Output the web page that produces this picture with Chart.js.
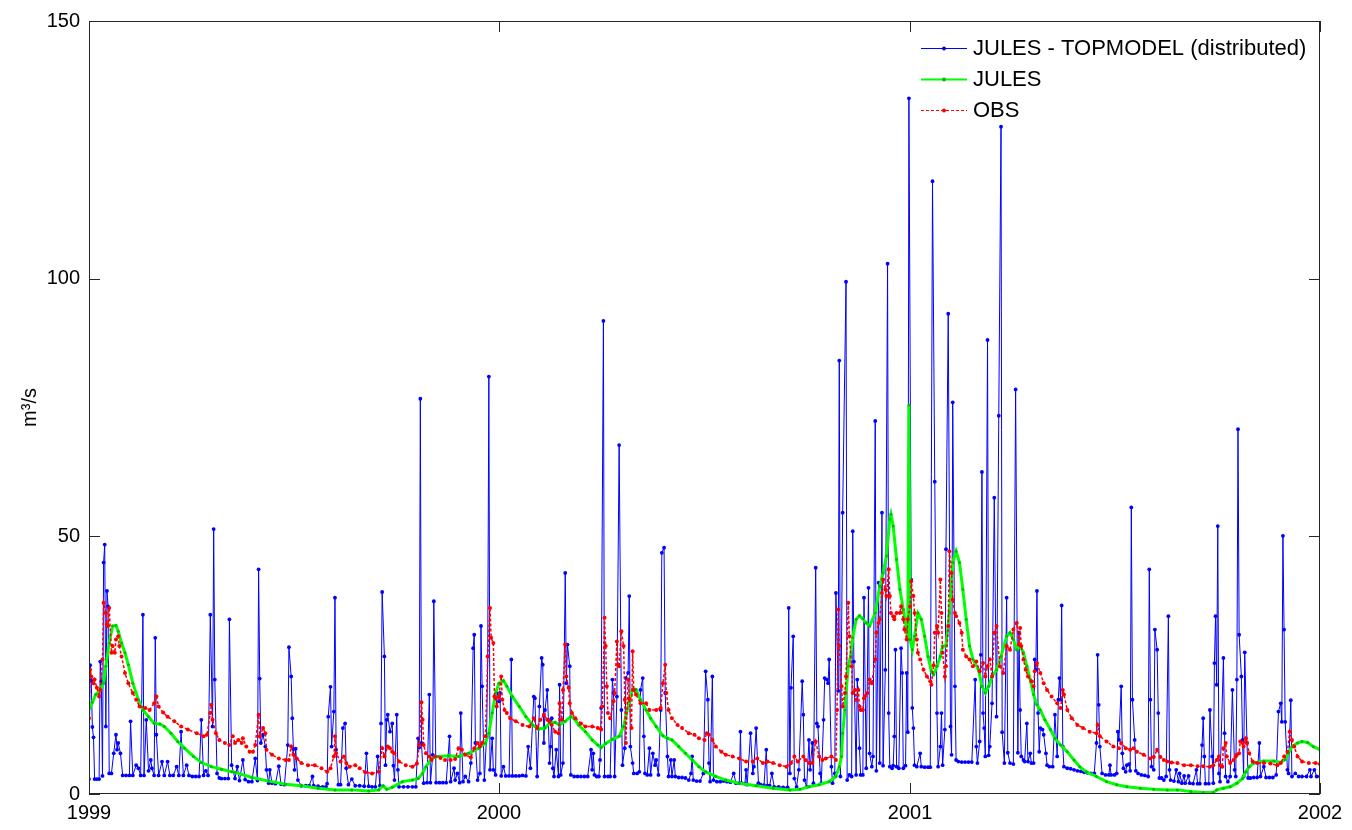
<!DOCTYPE html>
<html>
<head>
<meta charset="utf-8">
<script src="https://cdn.jsdelivr.net/npm/chart.js@4.4.1/dist/chart.umd.min.js"></script>
<style>
  html, body { margin: 0; padding: 0; background: #fff; }
  #wrap { width: 1352px; height: 830px; }
</style>
</head>
<body>
<div id="wrap"><canvas id="flowChart" width="1352" height="830"></canvas></div>
<script>
// x = days since 1 Jan 1999, y = discharge in m3/s
const yearTicks = [0, 365, 731, 1096];
const yearLabels = ['1999', '2000', '2001', '2002'];
const flowTicks = [0, 50, 100, 150];
const seriesNames = ['JULES - TOPMODEL (distributed)', 'JULES', 'OBS'];

const topmodelFlow = [
  [0,2.9],[1,25.0],[2,22.0],[3,13.0],[4,11.0],[5,2.9],[7,2.9],[9,2.9],[10,25.7],[11,21.9],[12,3.5],[13,44.9],[14,48.4],[15,13.1],[16,39.4],[17,36.4],[18,4.0],[20,4.0],[22,7.9],[24,11.5],[25,8.6],[26,9.9],[28,7.9],[30,3.6],[33,3.6],[36,3.6],[37,14.1],[39,3.6],[42,5.6],[44,5.0],[46,3.6],[48,34.8],[49,3.6],[51,14.4],[53,4.5],[55,6.6],[56,5.0],[58,3.6],[59,30.3],[60,11.5],[62,3.6],[65,6.3],[67,3.6],[70,6.3],[72,3.6],[75,3.6],[78,5.3],[80,3.6],[82,12.1],[84,3.6],[87,5.6],[89,3.6],[92,3.4],[95,3.4],[98,3.4],[100,14.4],[102,3.6],[104,4.5],[106,3.6],[108,34.8],[110,13.1],[111,51.4],[112,22.2],[114,4.0],[116,3.1],[118,3.0],[121,3.0],[124,3.0],[125,33.9],[127,5.6],[130,3.0],
  [132,5.3],[134,2.6],[137,6.6],[139,2.8],[142,2.4],[145,2.4],[148,6.9],[150,2.6],[151,43.6],[152,22.4],[153,9.9],[155,11.5],[157,9.2],[158,4.7],[160,2.1],[161,4.7],[163,2.1],[166,2.0],[169,5.4],[171,1.9],[174,1.8],[177,9.5],[178,28.5],[180,22.8],[181,14.7],[182,8.7],[183,4.7],[184,8.8],[186,2.7],[189,1.6],[193,1.6],[196,1.6],[199,3.4],[200,1.6],[204,1.5],[208,1.4],[211,1.4],[212,2.0],[213,15.0],[215,20.8],[216,9.2],[218,16.0],[219,38.1],[220,8.6],[222,1.8],[224,1.8],[226,12.8],[228,13.7],[229,5.0],[231,1.8],[234,2.9],[237,1.6],[241,1.6],[245,1.5],[247,7.9],[249,1.5],[252,1.4],[255,1.4],[257,7.3],[259,1.6],[260,13.7],[261,39.2],[263,26.7],[264,5.6],[265,14.4],[266,15.4],[268,12.1],[270,13.7],[271,5.5],[272,2.7],[274,15.4],[275,4.7],[276,1.4],[280,1.4],[284,1.4],[288,1.4],[291,1.4],[293,10.8],[294,9.0],[295,76.7],[296,9.9],[298,2.1],
  [301,2.2],[303,19.3],[304,2.2],[306,7.6],[307,37.4],[309,2.2],[312,2.2],[315,2.2],[318,2.2],[321,11.2],[322,2.4],[325,5.0],[326,2.7],[328,4.0],[330,2.2],[331,15.7],[333,2.4],[335,3.4],[338,2.4],[340,6.0],[342,28.3],[343,30.9],[344,9.9],[346,2.7],[348,4.0],[349,32.6],[350,20.9],[352,2.7],[354,11.2],[355,26.7],[356,81.0],[357,4.7],[359,10.8],[360,4.7],[362,3.7],[363,19.6],[365,18.0],[366,19.6],[367,3.5],[369,5.3],[371,3.5],[374,3.5],[376,26.1],[377,3.5],[380,3.5],[383,3.5],[386,3.6],[389,3.5],[391,9.2],[393,5.0],[396,18.9],[397,18.6],[399,3.4],[401,17.0],[403,26.4],[404,25.1],[405,9.9],[406,16.3],[408,20.2],[409,14.4],[410,6.0],[411,9.2],[412,14.7],[413,5.0],[414,3.4],[416,8.6],[418,3.4],[419,21.2],[420,3.7],[422,6.0],[424,42.9],[425,21.5],[426,29.0],[428,24.8],[429,3.7],[432,3.4],[435,3.4],[438,3.4],[441,3.4],[444,3.4],[447,8.6],[448,4.7],[449,7.9],[450,3.7],[452,3.4],[454,3.4],[455,6.6],[456,16.7],[458,91.8],[459,3.4],[462,3.4],[464,3.4],[466,22.2],[467,19.6],[468,3.4],[470,18.9],[472,67.7],[474,16.3],[475,5.6],[477,8.9],[478,22.5],[480,23.5],[481,38.4],[482,9.2],[484,6.0],[485,4.0],[488,4.0],[490,4.3],[491,20.2],[493,22.5],[494,11.2],[495,4.0],[497,3.7],[499,8.9],
  [500,3.7],[502,7.9],[504,5.6],[505,6.6],[507,3.7],[509,16.3],[510,46.8],[512,47.8],[513,19.6],[515,7.3],[516,3.4],[518,6.6],[519,3.4],[521,6.6],[522,3.4],[525,3.2],[528,3.2],[531,3.1],[534,2.7],[536,4.0],[537,7.3],[538,2.7],[541,2.5],[544,2.5],[547,4.0],[549,23.8],[551,18.3],[552,6.0],[553,2.4],[555,22.8],[556,2.7],[559,2.4],[562,2.4],[565,2.5],[568,2.4],[571,2.3],[574,4.0],[576,2.1],[579,2.1],[580,12.1],[581,2.1],[584,2.0],[585,4.7],[586,1.8],[589,11.8],[591,4.0],[592,5.3],[594,12.8],[596,2.1],[598,1.8],[601,1.7],[603,8.6],[604,1.6],[606,1.6],[608,4.0],[610,1.4],[614,1.4],[618,1.3],[622,1.3],[623,36.1],[624,4.0],[625,20.6],[627,30.6],[628,3.0],[630,1.4],[632,4.7],[635,21.9],[636,15.4],[637,2.7],[639,1.4],[641,10.5],[642,4.7],[644,9.9],[645,2.1],[647,43.9],[648,13.7],[649,13.1],[651,4.0],[652,2.1],[654,14.4],[655,22.5],[657,22.2],[658,21.5],[659,26.1],[661,5.3],[662,2.1],[664,4.0],[665,39.0],[667,20.0],[668,84.1],[669,3.4],[671,54.6],[674,99.4],[675,2.7],[677,3.7],[679,3.4],[680,51.0],[681,25.7],[683,3.7],[684,22.2],[686,8.9],[687,3.7],[689,3.7],[690,38.1],[692,5.0],[694,40.0],[695,7.9],[697,5.3],[698,7.3],
  [700,72.4],[701,4.5],[703,41.0],[704,6.0],[706,54.6],[707,5.5],[709,24.1],[711,102.9],[712,15.7],[713,5.3],[715,5.0],[716,5.5],[717,11.2],[718,28.0],[719,5.3],[721,5.0],[723,28.3],[724,23.5],[725,5.0],[727,5.5],[728,23.5],[729,12.0],[730,135.0],[732,41.6],[733,16.7],[734,12.8],[735,5.6],[737,5.3],[740,7.9],[741,5.3],[744,5.2],[747,5.2],[749,5.2],[751,118.9],[753,60.6],[755,15.7],[756,5.3],[758,9.2],[759,15.7],[760,5.6],[762,12.5],[763,47.5],[765,93.2],[767,13.1],[768,7.6],[769,76.0],[771,20.9],[772,6.6],[774,6.3],[777,6.2],[780,6.2],[783,6.2],[786,6.2],[789,22.2],[790,9.2],[791,6.0],[793,10.2],[794,27.0],[795,62.5],[796,15.7],[797,12.8],[798,7.3],[800,88.1],[801,7.5],[802,9.2],[804,17.6],[806,57.5],[808,15.0],[810,73.4],[812,129.5],[813,12.0],[815,6.0],[817,38.1],[818,8.0],[820,6.0],[823,5.8],[825,78.5],[827,8.0],[828,31.3],[829,16.3],[830,7.3],[832,6.6],[833,6.3],[835,13.7],[836,6.3],[838,7.9],[839,6.0],[841,6.0],[842,26.1],[843,24.1],[844,39.4],[845,15.7],[846,8.2],[847,12.8],[849,12.5],[850,11.5],[852,7.9],[853,5.6],[855,5.3],[858,5.3],[860,15.4],[862,7.3],[863,18.3],[864,22.5],[865,18.3],[866,36.6],[867,9.2],[868,5.3],[871,5.0],[874,4.9],[877,4.7],[880,4.5],[883,4.4],[886,4.2],[889,4.1],[892,4.0],[895,4.0],[897,9.9],[898,27.0],[899,17.3],
  [900,9.2],[902,4.0],[905,3.7],[908,3.7],[909,5.6],[910,3.7],[913,3.7],[915,4.0],[916,12.1],[917,10.5],[919,20.9],[920,7.9],[921,5.0],[923,4.3],[924,5.6],[926,5.8],[927,4.5],[928,55.6],[929,18.3],[931,10.5],[932,4.5],[934,4.0],[937,3.7],[940,3.6],[943,3.4],[944,43.6],[945,18.3],[946,5.3],[948,4.7],[949,31.9],[951,28.0],[952,15.7],[953,3.1],[955,3.1],[957,2.7],[959,3.4],[961,34.5],[962,4.7],[963,2.7],[966,2.5],[968,4.7],[970,2.4],[971,4.0],[973,2.1],[975,3.5],[976,2.1],[979,3.5],[980,2.1],[983,2.0],[986,4.7],[987,2.0],[989,2.0],[991,9.5],[992,14.7],[993,7.3],[994,2.0],[997,2.0],[998,16.3],[1000,7.3],[1001,2.1],[1002,25.4],[1003,34.5],[1004,21.2],[1005,52.0],[1006,4.0],[1007,2.4],[1010,26.4],[1011,11.8],[1012,3.4],[1014,2.4],[1016,3.4],[1018,20.2],[1020,4.7],[1021,3.4],[1022,22.2],[1023,70.8],[1024,30.9],[1026,22.8],[1027,10.5],[1028,3.4],[1029,27.5],[1031,9.9],[1032,3.1],[1034,3.1],[1037,3.2],[1040,3.2],[1042,9.9],[1043,3.4],[1046,5.3],[1048,3.2],[1051,3.2],[1054,3.2],[1057,3.7],[1059,16.0],[1061,17.6],[1062,14.0],[1063,50.1],[1064,31.9],[1065,14.0],[1067,4.7],[1068,4.0],[1070,18.2],[1071,3.4],[1074,4.0],[1077,3.4],[1080,3.4],[1084,3.4],[1087,4.7],[1088,3.4],[1091,4.7],[1093,3.4],[1096,3.4]
];

const julesFlow = [
  [0,16.5],[3,17.8],[6,19.3],[10,20.2],[13,21.5],[15,24.8],[18,29.3],[21,32.6],[24,32.7],[26,31.6],[29,29.3],[32,27.4],[35,25.1],[39,21.5],[44,18.3],[48,16.3],[53,15.0],[58,13.7],[63,13.6],[67,13.1],[73,11.8],[79,10.2],[85,8.9],[93,7.3],[100,6.1],[109,5.3],[118,4.8],[127,4.3],[130,4.2],[145,3.2],[160,2.5],[175,1.9],[189,1.6],[204,1.1],[219,0.8],[234,0.8],[249,0.6],[258,0.8],[262,1.6],[265,0.9],[270,1.3],[279,2.4],[288,2.7],[293,3.0],[297,4.0],
  [300,5.3],[305,6.9],[311,7.3],[320,7.4],[329,7.3],[338,7.9],[347,8.9],[353,9.9],[356,11.8],[359,15.7],[362,19.6],[365,21.5],[369,22.0],[372,20.9],[377,18.9],[383,17.0],[389,15.0],[395,13.4],[400,12.6],[406,12.8],[410,13.8],[415,13.9],[419,13.4],[424,14.1],[429,15.0],[432,14.6],[436,13.4],[442,12.1],[448,10.5],[453,9.5],[456,9.0],[460,9.8],[466,10.6],[472,11.2],[476,13.1],[481,18.0],[484,20.4],[487,20.3],[491,18.3],[496,16.3],
  [500,14.7],[505,13.1],[511,11.3],[515,10.8],[519,10.5],[525,9.2],[531,7.9],[537,6.6],[543,5.3],[549,4.3],[558,3.4],[567,2.7],[579,2.1],[594,1.6],[609,1.1],[624,0.8],[633,0.9],[641,1.4],[650,1.8],[659,2.4],[665,3.4],[668,5.3],[670,7.3],[671,11.8],[673,16.3],[674,19.6],[676,24.8],[678,26.7],[680,30.3],[683,33.9],[686,34.6],[689,34.0],[692,33.2],[695,32.6],
  [700,35.1],[704,40.3],[707,42.9],[710,46.2],[713,53.3],[714,54.3],[716,52.0],[719,45.5],[722,39.7],[725,35.8],[728,31.9],[729,30.0],[730,75.5],[731,30.0],[733,28.0],[735,30.6],[738,35.1],[741,33.9],[744,30.6],[747,26.7],[750,23.8],[752,23.2],[755,24.8],[758,26.7],[760,28.7],[763,28.7],[766,35.1],[769,44.9],[772,47.1],[775,44.9],[778,39.7],[781,33.9],[784,28.7],[787,26.1],[792,24.1],[795,20.9],[798,19.6],[801,20.9],[804,22.8],[808,24.1],[812,26.7],[817,30.6],[820,31.3],[823,30.0],[826,28.0],[829,28.7],[832,27.4],[835,24.8],[838,22.2],[841,19.3],[844,17.3],[847,16.3],[851,14.4],[856,12.5],[860,10.8],[865,9.5],[871,8.2],[877,6.6],[882,5.3],[888,4.3],[897,3.4],
  [906,2.4],[915,1.8],[924,1.4],[936,1.1],[948,0.9],[960,0.8],[969,0.8],[981,0.5],[992,0.3],[1001,0.3],[1004,0.8],[1010,1.1],[1016,1.4],[1022,2.1],[1027,3.0],[1030,4.3],[1033,5.3],[1037,6.0],[1046,6.4],[1055,6.4],[1061,6.1],[1065,6.7],[1068,7.9],[1071,9.2],[1076,9.9],[1080,10.2],[1085,10.0],[1090,9.2],[1096,8.6]
];

const obsFlow = [
  [0,14.7],[1,24.1],[2,22.8],[4,21.5],[5,22.2],[7,20.6],[9,18.9],[10,20.2],[12,26.1],[13,37.1],[15,35.1],[16,32.9],[17,32.6],[18,36.1],[20,27.4],[21,28.7],[23,27.4],[24,30.0],[26,30.6],[27,28.7],[29,26.7],[32,23.5],[35,21.5],[39,19.6],[42,18.3],[45,17.0],[50,16.7],[54,16.3],[58,17.6],[60,18.9],[62,17.0],[66,15.8],[70,15.0],[76,14.1],[82,13.1],[88,12.5],[96,11.8],[102,11.2],[105,11.5],[108,15.7],[109,17.3],[110,14.4],[113,11.8],[116,10.5],[121,9.9],[125,9.5],[128,11.2],[130,9.9],[133,10.5],[136,9.9],[137,10.8],[140,9.2],[143,8.2],[146,8.2],[148,9.5],[151,15.4],[152,11.2],[155,12.8],[157,11.8],[158,8.6],[163,7.6],[169,6.9],[175,6.6],[178,6.6],[180,9.2],[182,7.6],[185,6.9],[189,6.0],[195,5.6],
  [201,5.6],[207,5.0],[212,4.3],[215,5.0],[218,7.3],[219,11.2],[220,7.9],[224,6.3],[227,7.3],[229,6.0],[232,5.3],[237,5.6],[241,5.0],[246,4.2],[252,4.0],[258,4.3],[261,8.9],[263,7.3],[266,9.2],[268,8.9],[270,8.2],[272,7.9],[276,6.3],[282,5.6],[288,5.3],[292,5.9],[294,9.5],[296,17.8],[297,14.4],[298,9.5],[300,7.9],[303,7.3],[305,6.6],[308,7.3],[313,7.0],[317,6.6],[322,6.6],[326,6.8],[329,8.9],[332,8.6],[335,7.6],[340,7.1],[343,8.9],[346,9.9],[348,9.2],[350,9.9],[353,11.2],[355,26.7],[357,36.1],[358,30.3],[360,29.3],[361,18.9],[362,18.6],[363,17.0],[365,18.9],[367,22.8],[368,18.3],[370,16.3],[372,15.7],[375,14.7],[380,14.1],[386,13.4],[392,13.1],[396,14.7],[399,12.8],
  [402,14.4],[405,15.4],[408,14.4],[410,14.1],[412,13.4],[415,12.1],[418,11.8],[419,17.6],[421,14.4],[422,20.2],[424,29.0],[425,22.8],[427,20.6],[428,17.6],[430,15.7],[433,14.7],[438,13.7],[442,13.1],[448,13.1],[453,12.8],[456,12.5],[457,17.0],[459,34.2],[460,28.7],[461,20.9],[462,15.7],[464,14.7],[467,18.0],[468,19.6],[470,29.6],[471,25.1],[472,24.8],[474,31.6],[476,28.7],[477,18.3],[478,9.9],[480,22.2],[481,18.5],[483,12.8],[484,27.7],[485,20.2],[487,19.3],[491,17.6],[496,17.6],[499,16.3],[505,16.3],[509,16.7],[511,21.5],[513,25.1],[514,19.6],[516,16.3],[519,14.7],[524,13.4],[528,12.8],[534,11.8],[539,11.5],[543,10.8],[548,10.5],[550,11.8],[552,11.5],[555,10.5],[558,9.2],[563,8.2],[567,7.6],[573,7.3],[579,6.9],[585,6.3],[591,6.3],[595,6.9],
  [600,6.0],[604,6.3],[609,6.0],[615,5.6],[621,5.3],[625,6.0],[628,7.3],[631,6.3],[636,7.3],[638,6.6],[641,6.0],[644,6.0],[647,10.2],[650,7.3],[653,6.6],[656,6.9],[661,7.3],[665,6.6],[666,16.3],[667,35.8],[668,28.7],[670,20.9],[671,17.0],[673,19.6],[674,22.8],[676,37.1],[677,30.6],[679,24.8],[680,19.6],[682,20.2],[683,18.3],[685,20.2],[686,17.0],[687,16.3],[689,16.3],[690,18.6],[691,19.0],[693,19.6],[695,22.2],[697,21.5],
  [700,26.1],[701,31.3],[703,33.2],[704,33.9],[706,39.0],[707,41.6],[709,39.7],[710,38.4],[712,43.6],[713,38.4],[714,35.1],[716,34.5],[717,33.9],[719,35.1],[722,35.1],[723,36.4],[725,33.9],[726,31.9],[728,30.0],[729,33.9],[731,36.4],[732,41.3],[734,38.4],[735,35.1],[737,30.0],[738,27.4],[740,26.1],[743,24.1],[746,22.8],[749,21.9],[750,21.2],[752,25.0],[753,31.3],[755,32.6],[756,31.3],[758,41.6],[759,35.1],[760,27.4],[762,22.8],[763,24.8],[765,32.6],[766,47.1],[768,42.9],[769,37.7],[771,35.1],[772,34.5],[775,33.2],[777,31.3],[778,28.0],[781,26.7],[784,26.1],[787,24.8],[790,25.7],[793,23.8],[796,25.4],[798,22.8],
  [800,24.8],[802,26.1],[804,22.8],[806,31.3],[808,32.6],[811,24.8],[814,23.5],[817,28.7],[820,28.0],[823,31.9],[826,33.2],[828,29.0],[829,32.2],[830,28.7],[832,26.1],[834,24.1],[836,22.8],[839,21.9],[841,20.9],[842,23.8],[844,25.4],[847,23.5],[850,21.5],[853,20.2],[857,18.9],[862,17.6],[865,16.7],[867,20.2],[868,19.3],[871,16.3],[875,14.7],[880,13.4],[885,12.8],[891,12.1],[897,11.8],[898,13.4],
  [900,11.2],[906,10.2],[912,9.2],[917,8.9],[919,9.9],[923,8.9],[927,8.6],[930,8.9],[933,8.2],[939,7.6],[945,6.9],[948,7.2],[951,8.6],[954,7.2],[957,6.6],[960,6.3],[964,6.1],[969,6.0],[975,5.6],[981,5.6],[987,5.4],[992,5.4],[998,5.3],[1001,5.6],[1004,6.6],[1006,7.3],[1007,5.6],[1009,5.3],[1010,8.9],[1012,9.9],[1013,7.3],[1016,6.0],[1019,6.6],[1021,7.3],[1022,7.6],[1024,7.9],[1025,10.2],[1027,9.9],[1028,9.2],[1030,10.8],[1031,9.9],[1033,7.9],[1036,6.3],[1040,6.0],[1046,6.0],[1052,5.9],[1058,5.6],[1061,6.0],[1064,7.3],[1067,8.2],[1069,12.1],[1071,10.5],[1073,9.2],[1076,7.3],[1080,6.3],[1086,6.0],[1092,6.0],[1096,5.8]
];

const toPoints = pairs => pairs.map(p => ({ x: p[0], y: p[1] }));

Chart.defaults.font.family = '"Liberation Sans", Arial, sans-serif';
Chart.defaults.color = '#000';

const legendStyle = [
  { color: '#0000ff', dot: '#0000ff', dash: [], width: 1 },
  { color: '#00ff00', dot: '#00c000', dash: [], width: 2 },
  { color: '#ff0000', dot: '#ff0000', dash: [3, 2], width: 1 }
];

// box around the axes, inward tick marks and the legend in the top right corner
const matlabFrame = {
  id: 'matlabFrame',
  afterDraw(chart) {
    const ctx = chart.ctx;
    const { left, right, top, bottom } = chart.chartArea;
    const xs = chart.scales.x, ys = chart.scales.y;
    ctx.save();
    ctx.strokeStyle = '#262626';
    ctx.lineWidth = 1;
    ctx.strokeRect(left + 0.5, top + 0.5, right - left - 1, bottom - top - 1);
    ctx.beginPath();
    flowTicks.forEach(v => {
      const y = Math.round(ys.getPixelForValue(v)) + 0.5;
      ctx.moveTo(left, y); ctx.lineTo(left + 11, y);
      ctx.moveTo(right, y); ctx.lineTo(right - 11, y);
    });
    yearTicks.forEach(v => {
      const x = Math.round(xs.getPixelForValue(v)) + 0.5;
      ctx.moveTo(x, bottom); ctx.lineTo(x, bottom - 11);
      ctx.moveTo(x, top); ctx.lineTo(x, top + 11);
    });
    ctx.stroke();

    ctx.font = '22px "Liberation Sans", Arial, sans-serif';
    ctx.textBaseline = 'middle';
    ctx.fillStyle = '#000';
    const x0 = right - 399;
    seriesNames.forEach((name, i) => {
      const y = top + 27 + i * 31;
      const st = legendStyle[i];
      ctx.strokeStyle = st.color;
      ctx.lineWidth = st.width;
      ctx.setLineDash(st.dash);
      ctx.beginPath();
      ctx.moveTo(x0, y + 0.5); ctx.lineTo(x0 + 46, y + 0.5);
      ctx.stroke();
      ctx.setLineDash([]);
      ctx.fillStyle = st.dot;
      ctx.beginPath();
      ctx.arc(x0 + 23, y + 0.5, 2, 0, Math.PI * 2);
      ctx.fill();
      ctx.fillStyle = '#000';
      ctx.fillText(name, x0 + 52, y + 1);
    });
    ctx.restore();
  }
};

new Chart(document.getElementById('flowChart'), {
  type: 'line',
  data: {
    datasets: [
      {
        label: seriesNames[0],
        data: toPoints(topmodelFlow),
        borderColor: '#0000ff',
        borderWidth: 1,
        pointRadius: 1.9,
        pointBackgroundColor: '#0000ff',
        pointBorderWidth: 0,
        order: 3
      },
      {
        label: seriesNames[1],
        data: toPoints(julesFlow),
        borderColor: '#00ff00',
        borderWidth: 3,
        pointRadius: 1.5,
        pointBackgroundColor: '#00c000',
        pointBorderWidth: 0,
        order: 2
      },
      {
        label: seriesNames[2],
        data: toPoints(obsFlow),
        borderColor: '#ff0000',
        borderWidth: 1.5,
        borderDash: [3, 2],
        pointRadius: 2,
        pointBackgroundColor: '#ff0000',
        pointBorderWidth: 0,
        order: 1
      }
    ]
  },
  options: {
    responsive: false,
    animation: false,
    events: [],
    layout: { padding: { left: 0, right: 32, top: 21, bottom: 0 } },
    plugins: { legend: { display: false }, tooltip: { enabled: false } },
    elements: { line: { tension: 0 } },
    scales: {
      x: {
        type: 'linear',
        min: 0,
        max: 1096,
        grid: { display: false, drawTicks: false },
        border: { display: false },
        afterBuildTicks: scale => { scale.ticks = yearTicks.map(v => ({ value: v })); },
        afterFit: scale => { scale.height = 36; scale.paddingLeft = 0; scale.paddingRight = 0; },
        ticks: {
          autoSkip: false,
          maxRotation: 0,
          padding: 7,
          font: { size: 20 },
          callback: v => yearLabels[yearTicks.indexOf(v)]
        }
      },
      y: {
        min: 0,
        max: 150,
        grid: { display: false, drawTicks: false },
        border: { display: false },
        afterBuildTicks: scale => { scale.ticks = flowTicks.map(v => ({ value: v })); },
        afterFit: scale => { scale.width = 89; scale.paddingTop = 0; scale.paddingBottom = 0; },
        ticks: { padding: 9, font: { size: 20 } },
        title: {
          display: true,
          text: 'm³/s',
          font: { size: 20 },
          padding: { top: 18, bottom: 0 }
        }
      }
    }
  },
  plugins: [matlabFrame]
});
</script>
</body>
</html>
